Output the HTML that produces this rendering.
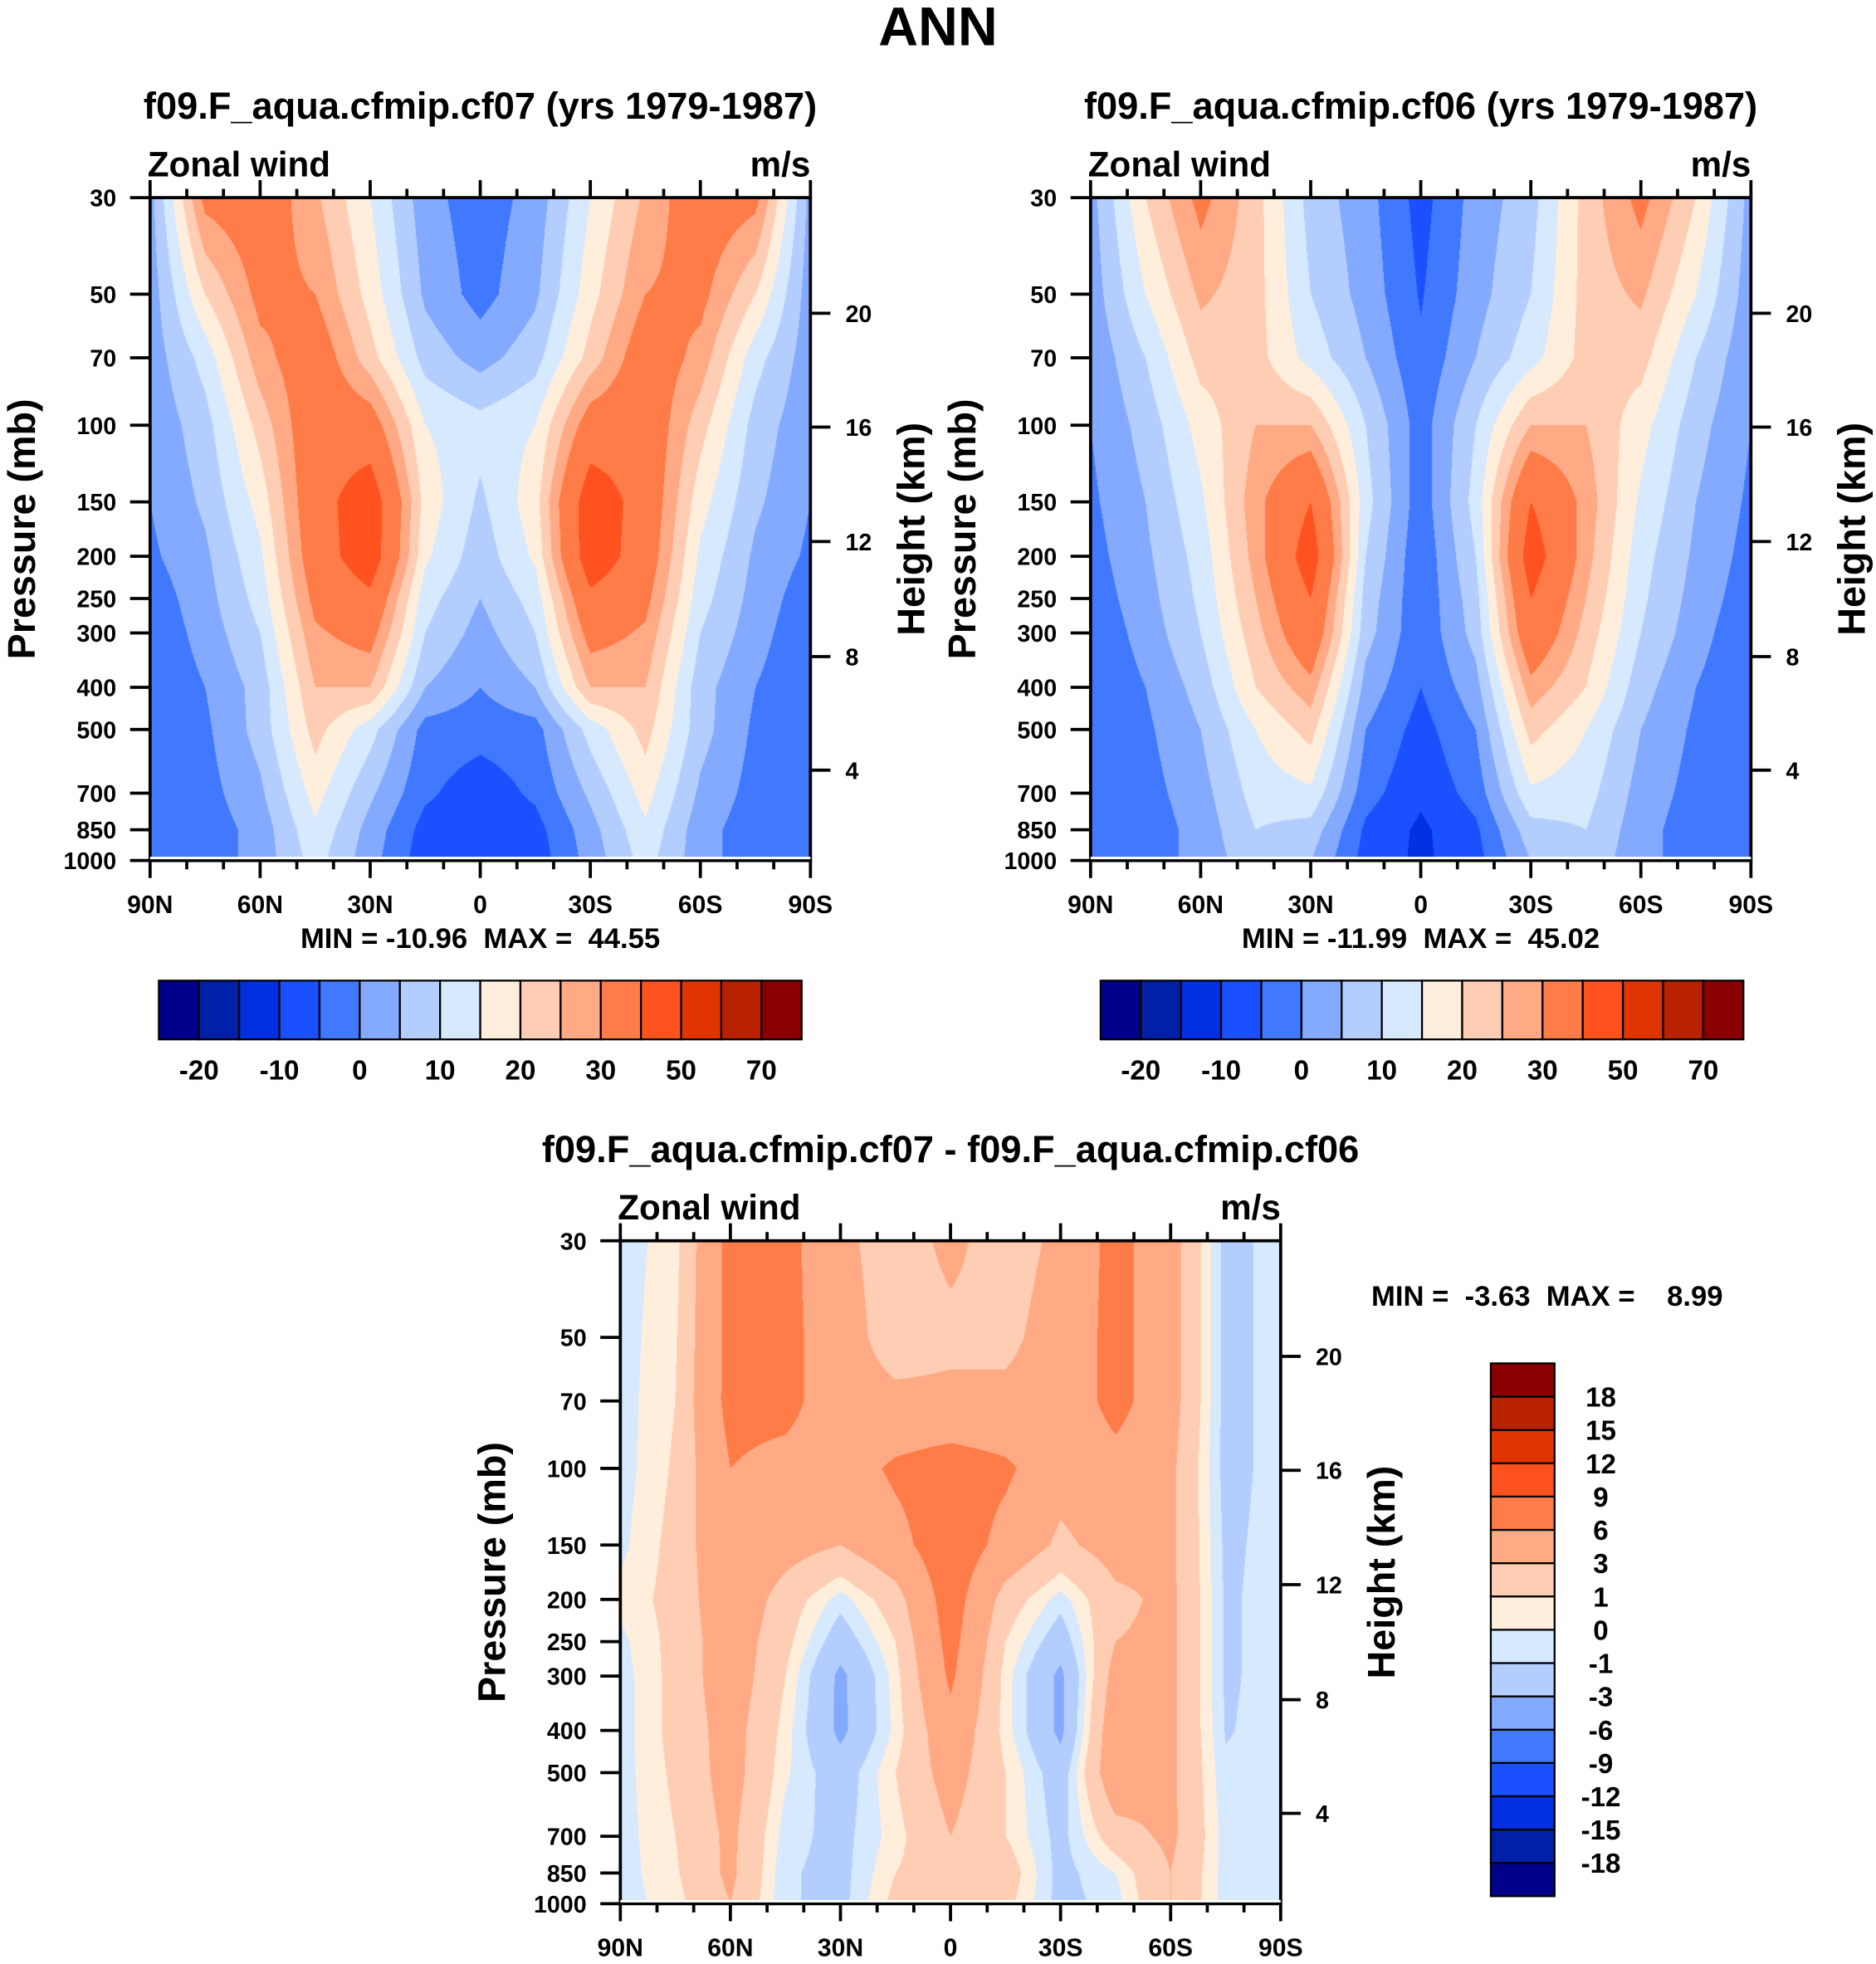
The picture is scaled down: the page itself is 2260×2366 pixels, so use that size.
<!DOCTYPE html>
<html><head><meta charset="utf-8">
<style>
html,body{margin:0;padding:0;background:#fff;}
#root{position:relative;width:1500px;height:1570px;transform:scale(1.50667,1.5068);transform-origin:0 0;font-family:"Liberation Sans",Arial,sans-serif;}
canvas{position:absolute;}
svg{position:absolute;left:0;top:0;}
</style></head>
<body>
<div id="root">
<canvas id="c1" style="left:120px;top:158px;width:528px;height:530px" width="795" height="799"></canvas>
<canvas id="c2" style="left:872px;top:158px;width:528px;height:530px" width="795" height="799"></canvas>
<canvas id="c3" style="left:496px;top:992px;width:528px;height:530px" width="795" height="799"></canvas>
<svg id="s" width="1500" height="1570" viewBox="0 0 1500 1570"></svg>
</div>
<script>
const pressures=[30,50,70,100,150,200,250,300,400,500,700,850,1000];
const lats=[90,75,60,45,30,15,0,-15,-30,-45,-60,-75,-90];
const heightTicks=[20,16,12,8,4];
const heightPressures=[55.3,101,185,340,620];
const xTickLabels=["90N","60N","30N","0","30S","60S","90S"];
const levelsAbs=[-25,-20,-15,-10,-5,0,5,10,15,20,25,30,40,50,60,70];
const levelsDiff=[-21,-18,-15,-12,-9,-6,-3,-1,0,1,3,6,9,12,15,18];
const absLabels=["-20","-10","0","10","20","30","50","70"];
const diffLabels=["18","15","12","9","6","3","1","0","-1","-3","-6","-9","-12","-15","-18"];
const palette=["#00008a","#0020a8","#0030e0","#1a50ff","#4078ff","#84aaff","#b4cdff","#d6e9ff","#ffeedc","#ffcdb4","#ffaa84","#ff7b48","#ff521e","#e03500","#b82200","#8a0000"];
const cf07=[
[3,32,35,26,15,2,-3,2,15,26,35,32,3],
[2,20,32,30,18,4,-2,4,18,30,32,20,2],
[2,12,28,35,22,8,3,8,22,35,28,12,2],
[1,8,22,36,34,15,12,15,34,36,22,8,1],
[0,6,17,36,46,18,9,18,46,36,17,6,0],
[-1,4,14,35,46,16,7,16,46,35,14,4,-1],
[-3,3,12,32,38,12,5,12,38,32,12,3,-3],
[-4,2,10,29,33,10,3,10,33,29,10,2,-4],
[-4.5,0,7,25,25,5,0,5,25,25,7,0,-4.5],
[-4.5,-1,7,22,12,-2,-3,-2,12,22,7,-1,-4.5],
[-4.5,-2,4,17,6,-4,-8,-4,6,17,4,-2,-4.5],
[-4,-3,2,14,3,-7,-9,-7,3,14,2,-3,-4],
[-4,-3,2,12,2,-8,-9,-8,2,12,2,-3,-4]];
const cf06=[
[3,20,32,22,8,2,-7,2,8,22,32,20,3],
[2,15,26,22,10,3,-5.5,3,10,22,26,15,2],
[1,10,22,22,13,5,-4,5,13,22,22,10,1],
[0,7,17,25,25,10,-2.5,10,25,25,17,7,0],
[-1,5,14,28,40,12,-3,12,40,28,14,5,-1],
[-2,4,12,27,45,10,-4,10,45,27,12,4,-2],
[-3,3,11,25,40,8,-4,8,40,25,11,3,-3],
[-4,2,10,23,37,7,-4,7,37,23,10,2,-4],
[-4.5,0,7,20,28,3,-5,3,28,20,7,0,-4.5],
[-4.5,-1,5,15,22,0,-7,0,22,15,5,-1,-4.5],
[-4.5,-2,3,12,14,-3,-9,-3,14,12,3,-2,-4.5],
[-4,-3,2,10,8,-6,-11,-6,8,10,2,-3,-4],
[-4,-3,2,8,5,-7,-11,-7,5,8,2,-3,-4]];
const diff=[
[-0.5,0.5,7,7,3.5,2,3.5,2,3.5,7,4,-1.5,-0.5],
[-0.5,0.8,7,7,4,2,2.5,2.5,4,7,4,-1.5,-0.5],
[-0.5,1,7,7,4,3.5,3.5,3.5,4,7,4,-1.5,-0.5],
[-0.5,1.2,6,5,4.5,6.5,7.5,6.5,4,5,3.5,-1.5,-0.5],
[-0.3,1.5,5.5,4,3,5,8,5,2.5,4,3.5,-1.3,-0.5],
[0.3,1.5,5,2,-0.5,2,7.5,2,-0.5,2.5,3.5,-1.2,-0.5],
[-0.3,1.5,4.5,1.5,-2,1,7,1,-2,3,3.5,-1.2,-0.5],
[-0.5,1.5,4.5,1,-3.5,0.5,6.5,0.5,-3.5,4,3.5,-1.2,-0.5],
[-0.5,1.5,4,0.5,-3.5,0.3,5,0.5,-3.5,5,3.5,-1.1,-0.5],
[-0.5,1.3,4,0.2,-2,1,4,1,-2,5,3.5,-0.8,-0.5],
[-0.5,1,3.5,-0.5,-1.5,0.5,3,1,-1.5,2,3.5,-0.5,-0.5],
[-0.5,0.8,3.5,-0.8,-1.5,1,2,2,-1.5,0,3,-0.5,-0.5],
[-0.5,0.5,3,-0.8,-1.5,1.5,1,1.5,-1.5,-0.5,3,-0.5,-0.5]];

const PW=528,PH=530;
function yOfP(p){return Math.log(p/30)/Math.log(1000/30)*PH;}
function xOfLat(l){return (90-l)/180*PW;}
function hex(c){return [parseInt(c.substr(1,2),16),parseInt(c.substr(3,2),16),parseInt(c.substr(5,2),16)];}
const pal=palette.map(hex);
function levelIdx(v,lv){let k=0;for(let i=1;i<lv.length;i++){if(v>=lv[i])k=i;}if(v<lv[1])k=0;return k;}
function drawField(id,data,lv){
  const cv=document.getElementById(id),ctx=cv.getContext('2d');
  const W=cv.width,H=cv.height,img=ctx.createImageData(W,H);
  const ry=pressures.map(yOfP);
  const rx=lats.map(xOfLat);
  for(let j=0;j<H;j++){
    const y=(j+0.5)/H*PH;
    let r=0;while(r<ry.length-2&&y>ry[r+1])r++;
    const fy=Math.min(1,Math.max(0,(y-ry[r])/(ry[r+1]-ry[r])));
    for(let i=0;i<W;i++){
      const x=(i+0.5)/W*PW;
      let c=0;while(c<rx.length-2&&x>rx[c+1])c++;
      const fx=(x-rx[c])/(rx[c+1]-rx[c]);
      const v=(1-fy)*((1-fx)*data[r][c]+fx*data[r][c+1])+fy*((1-fx)*data[r+1][c]+fx*data[r+1][c+1]);
      const col=pal[levelIdx(v,lv)];
      const o=(j*W+i)*4;img.data[o]=col[0];img.data[o+1]=col[1];img.data[o+2]=col[2];img.data[o+3]=255;
    }
  }
  ctx.putImageData(img,0,0);
}
drawField('c1',cf07,levelsAbs);
drawField('c2',cf06,levelsAbs);
drawField('c3',diff,levelsDiff);

const NS="http://www.w3.org/2000/svg",svg=document.getElementById('s');
function el(tag,attrs,txt){const e=document.createElementNS(NS,tag);for(const k in attrs)e.setAttribute(k,attrs[k]);if(txt!==undefined)e.textContent=txt;svg.appendChild(e);return e;}
function text(x,y,s,size,anchor,name){const t=el('text',{x:x,y:y,'font-size':size,'font-weight':'bold','text-anchor':anchor||'middle','font-family':'Liberation Sans, Arial, sans-serif','style':'white-space:pre'},s);

return t;}
text(750,36,"ANN",44,'middle','main-title');

function axes(x0,y0,title,pref){
  const g=el('rect',{x:x0,y:y0,width:PW,height:PH,fill:'none',stroke:'#000','stroke-width':2.5});
  
  
  el('line',{x1:x0,x2:x0+PW,y1:y0+PH-2,y2:y0+PH-2,stroke:'#fff','stroke-width':2});
  text(x0+PW/2,y0-63,title,30,'middle',pref+'-title');
  text(x0-2,y0-17,"Zonal wind",28,'start',pref+'-variable-label');
  text(x0+PW,y0-17,"m/s",28,'end',pref+'-units-label');
  pressures.forEach(p=>{const y=y0+yOfP(p);
    el('line',{x1:x0-16,x2:x0,y1:y,y2:y,stroke:'#000','stroke-width':2.5});
    text(x0-27,y+7,String(p),19,'end',pref+'-pressure-tick-label');});
  heightTicks.forEach((h,i)=>{const y=y0+yOfP(heightPressures[i]);
    el('line',{x1:x0+PW,x2:x0+PW+16,y1:y,y2:y,stroke:'#000','stroke-width':2.5});
    text(x0+PW+28,y+7,String(h),19,'start',pref+'-height-tick-label');});
  for(let l=90;l>=-90;l-=10){const x=x0+xOfLat(l);const maj=(l%30===0);const len=maj?14:7;
    el('line',{x1:x,x2:x,y1:y0,y2:y0-len,stroke:'#000','stroke-width':2.5});
    el('line',{x1:x,x2:x,y1:y0+PH,y2:y0+PH+len,stroke:'#000','stroke-width':2.5});}
  xTickLabels.forEach((s,i)=>{text(x0+i*PW/6,y0+PH+42,s,20,'middle',pref+'-lat-tick-label');});
  const a=text(0,0,"Pressure (mb)",31,'middle',pref+'-y-axis-title');a.setAttribute('transform',`translate(${x0-92},${y0+265}) rotate(-90)`);
  const b=text(0,0,"Height (km)",31,'middle',pref+'-right-axis-title');b.setAttribute('transform',`translate(${x0+PW+91},${y0+265}) rotate(-90)`);
}
axes(120,158,"f09.F_aqua.cfmip.cf07 (yrs 1979-1987)","cf07");
axes(872,158,"f09.F_aqua.cfmip.cf06 (yrs 1979-1987)","cf06");
axes(496,992,"f09.F_aqua.cfmip.cf07 - f09.F_aqua.cfmip.cf06","diff");
text(384,758,"MIN = -10.96  MAX =  44.55",23,'middle','cf07-min-max');
text(1136,758,"MIN = -11.99  MAX =  45.02",23,'middle','cf06-min-max');
text(1237,1044,"MIN =  -3.63  MAX =    8.99",23,'middle','diff-min-max');

function hbar(x0,pref){
  const bw=514/16;
  palette.forEach((c,i)=>{const r=el('rect',{x:x0+i*bw,y:784,width:bw,height:47,fill:c,stroke:'#000','stroke-width':1.5});
    
    });
  absLabels.forEach((s,i)=>{text(x0+bw*(1+2*i),863,s,22,'middle',pref+'-colorbar-label');});
}
hbar(127,'cf07');hbar(880,'cf06');
(function(){const bh=426/16;
  palette.forEach((c,i)=>{const r=el('rect',{x:1192,y:1090+(15-i)*bh,width:51,height:bh,fill:c,stroke:'#000','stroke-width':1.5});
    
    });
  diffLabels.forEach((s,i)=>{text(1280,1090+bh*(i+1)+8,s,22,'middle','diff-colorbar-label');});
})();
</script>
</body></html>
